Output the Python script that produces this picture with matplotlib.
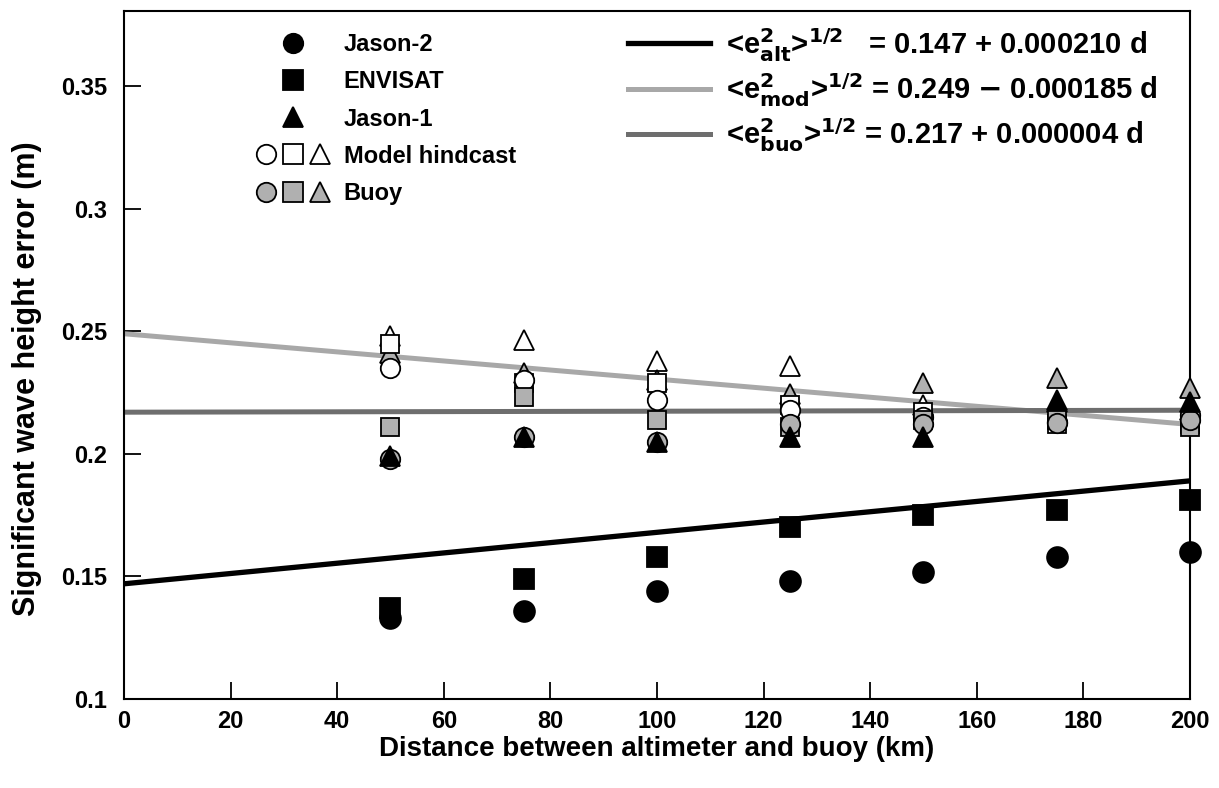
import matplotlib
matplotlib.use("Agg")
import numpy as np
import matplotlib.pyplot as plt
from matplotlib.lines import Line2D
from matplotlib.legend_handler import HandlerTuple

plt.rcParams['font.family'] = ['Liberation Sans', 'DejaVu Sans']
plt.rcParams['font.weight'] = 'bold'
plt.rcParams['axes.labelweight'] = 'bold'
plt.rcParams['mathtext.default'] = 'bf'

# distancia (km)
dist = [50, 75, 100, 125, 150, 175, 200]

# altimetros
jason2 = [0.133, 0.136, 0.144, 0.148, 0.152, 0.158, 0.160]
envisat = [0.137, 0.149, 0.158, 0.170, 0.175, 0.177, 0.181]
jason1 = [0.199, 0.207, 0.205, 0.207, 0.207, 0.222, 0.221]

# modelo (hindcast)
mod_j2 = [0.235, 0.230, 0.222, 0.218, 0.215, 0.213, 0.216]
mod_env = [0.245, 0.229, 0.229, 0.220, 0.217, 0.212, 0.212]
mod_j1 = [0.248, 0.2465, 0.238, 0.236, 0.220, 0.221, 0.218]

# boyas
buoy_j2 = [0.198, 0.207, 0.205, 0.212, 0.212, 0.2125, 0.214]
buoy_env = [0.211, 0.223, 0.214, 0.211, 0.214, 0.214, 0.211]
buoy_j1 = [0.241, 0.233, 0.230, 0.2245, 0.229, 0.231, 0.227]

# ajustes lineales: intercepto, pendiente
fit_alt = (0.147, 0.000210)
fit_mod = (0.249, -0.000185)
fit_buo = (0.217, 0.000004)

GRIS = '#b0b0b0'
GRIS_CLARO = '#a8a8a8'
GRIS_OSCURO = '#6e6e6e'

fig = plt.figure(figsize=(12.19, 7.88), dpi=100)
ax = fig.add_axes([0.1017, 0.1129, 0.8745, 0.873])

# rectas de ajuste
d_lin = np.array([0, 200])
ax.plot(d_lin, fit_alt[0] + fit_alt[1] * d_lin, color='black', lw=3.8, zorder=2)
ax.plot(d_lin, fit_mod[0] + fit_mod[1] * d_lin, color=GRIS_CLARO, lw=3.6, zorder=2)
ax.plot(d_lin, fit_buo[0] + fit_buo[1] * d_lin, color=GRIS_OSCURO, lw=3.6, zorder=2)

kw = dict(ls='none', clip_on=False, zorder=3, markeredgewidth=1.3)
ax.plot(dist, mod_j1, marker='^', ms=15, mfc='white', mec='black', **kw)
ax.plot(dist, buoy_j1, marker='^', ms=15, mfc=GRIS, mec='black', **kw)
ax.plot(dist, mod_env, marker='s', ms=13, mfc='white', mec='black', **kw)
ax.plot(dist, mod_j2, marker='o', ms=14, mfc='white', mec='black', **kw)
ax.plot(dist, buoy_env, marker='s', ms=13, mfc=GRIS, mec='black', **kw)
ax.plot(dist, buoy_j2, marker='o', ms=14, mfc=GRIS, mec='black', **kw)
ax.plot(dist, jason1, marker='^', ms=15, color='black', **kw)
ax.plot(dist, envisat, marker='s', ms=14, color='black', **kw)
ax.plot(dist, jason2, marker='o', ms=15, color='black', **kw)

ax.set_xlim(0, 200)
ax.set_ylim(0.1, 0.3806)
ax.set_xticks(np.arange(0, 201, 20))
ax.set_yticks([0.1, 0.15, 0.2, 0.25, 0.3, 0.35])
ax.set_yticklabels(['0.1', '0.15', '0.2', '0.25', '0.3', '0.35'])
ax.tick_params(direction='in', length=12, width=1.3, labelsize=17, pad=8)
ax.tick_params(axis='y', pad=12)
for s in ax.spines.values():
    s.set_linewidth(1.5)

ax.set_xlabel('Distance between altimeter and buoy (km)', fontsize=20, labelpad=2)
ax.set_ylabel('Significant wave height error (m)', fontsize=22)
ax.yaxis.set_label_coords(-0.077, 0.465)

# leyenda de marcadores
def mk(m, fc, ms=14):
    return Line2D([], [], ls='none', marker=m, ms=ms, mfc=fc, mec='black', mew=1.3)

h1 = [mk('o', 'black'), mk('s', 'black'), mk('^', 'black'),
      (mk('o', 'white'), mk('s', 'white'), mk('^', 'white')),
      (mk('o', GRIS), mk('s', GRIS), mk('^', GRIS))]
l1 = ['Jason-2', 'ENVISAT', 'Jason-1', 'Model hindcast', 'Buoy']
leg1 = ax.legend(h1, l1, loc='upper left', bbox_to_anchor=(0.113, 0.985),
                 frameon=False, fontsize=17, handlelength=3.1, handletextpad=0.6,
                 labelspacing=0.6, borderpad=0,
                 handler_map={tuple: HandlerTuple(ndivide=None, pad=0.3)})
ax.add_artist(leg1)

# leyenda de ajustes
h2 = [Line2D([], [], color='black', lw=3.8),
      Line2D([], [], color=GRIS_CLARO, lw=3.6),
      Line2D([], [], color=GRIS_OSCURO, lw=3.6)]
l2 = [r'<e$^2_{alt}$>$^{1/2}$   = 0.147 + 0.000210 d',
      r'<e$^2_{mod}$>$^{1/2}$ = 0.249 $-$ 0.000185 d',
      r'<e$^2_{buo}$>$^{1/2}$ = 0.217 + 0.000004 d']
ax.legend(h2, l2, loc='upper left', bbox_to_anchor=(0.459, 1.0),
          frameon=False, fontsize=21, handlelength=2.8, handletextpad=0.55,
          labelspacing=0.25, borderpad=0)

fig.savefig('out.png', dpi=100)
